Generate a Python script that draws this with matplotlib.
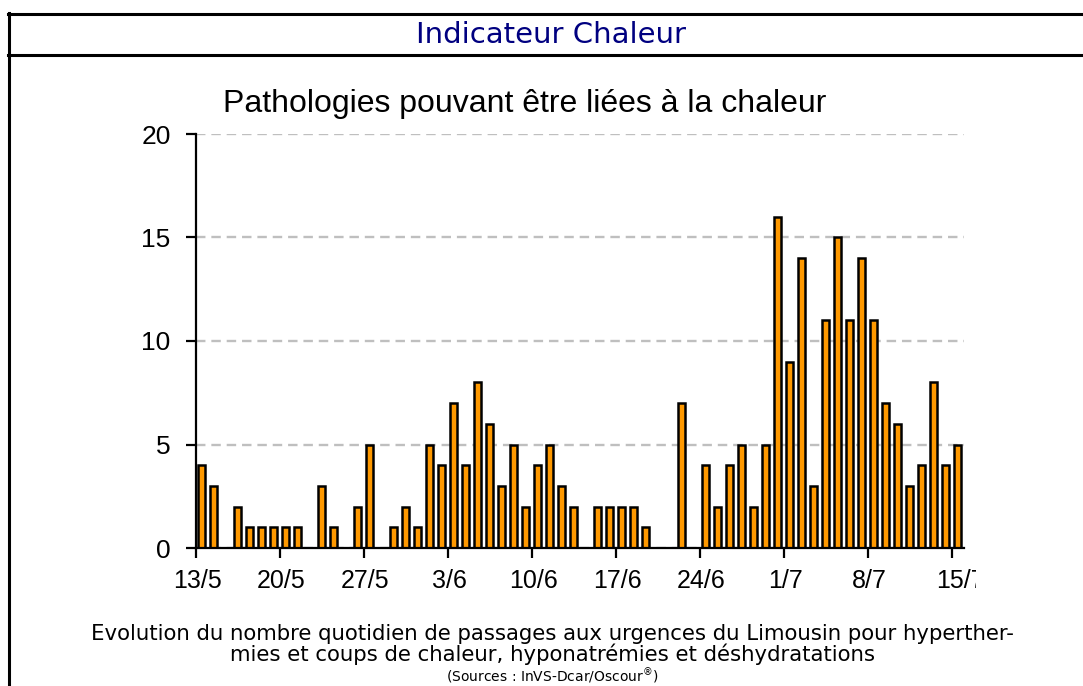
#!/usr/bin/env python3

"""\
Daily count of heat-related emergency visits (Limousin), bar chart.

Output:
    out.png
"""

import matplotlib
matplotlib.use('Agg')
import matplotlib.pyplot as plt
from matplotlib.lines import Line2D
from matplotlib.transforms import Bbox, TransformedBbox, offset_copy

# One value per day, 13/5 -> 15/7.
passages = [
        4, 3, 0, 2, 1, 1, 1, 1, 1, 0, 3, 1, 0, 2,       # 13/5 - 26/5
        5, 0, 1, 2, 1, 5, 4,                            # 27/5 - 2/6
        7, 4, 8, 6, 3, 5, 2,                            # 3/6 - 9/6
        4, 5, 3, 2, 0, 2, 2,                            # 10/6 - 16/6
        2, 2, 1, 0, 0, 7, 0,                            # 17/6 - 23/6
        4, 2, 4, 5, 2, 5, 16,                           # 24/6 - 30/6
        9, 14, 3, 11, 15, 11, 14,                       # 1/7 - 7/7
        11, 7, 6, 3, 4, 8, 4,                           # 8/7 - 14/7
        5,                                              # 15/7
]
tick_labels = ['13/5', '20/5', '27/5', '3/6', '10/6', '17/6', '24/6',
               '1/7', '8/7', '15/7']
y_ticks = [0, 5, 10, 15, 20]

header = "Indicateur Chaleur"
title = "Pathologies pouvant être liées à la chaleur"
caption_1 = ("Evolution du nombre quotidien de passages aux urgences "
             "du Limousin pour hyperther-")
caption_2 = "mies et coups de chaleur, hyponatrémies et déshydratations"
caption_3 = r"(Sources : InVS-Dcar/Oscour$^{\circledR}$)"

W, H = 1083, 686
num_font = 'Liberation Sans'
gothic_font = 'DejaVu Sans'


def fx(px):
    return px / W

def fy(py):
    return 1 - py / H


def draw_frame(fig):
    # Box around the panel: top rule, header rule, left side.
    lw = 2.2
    fig.add_artist(Line2D([fx(8), 1.0], [fy(13.5), fy(13.5)],
                          color='black', lw=lw))
    fig.add_artist(Line2D([fx(8), 1.0], [fy(55), fy(55)],
                          color='black', lw=lw))
    fig.add_artist(Line2D([fx(9), fx(9)], [fy(12.5), 0.0],
                          color='black', lw=lw))

    fig.text(fx(551), fy(35), header, ha='center', va='center',
             fontsize=21, color='#000080', family=gothic_font)


def plot_bars(fig):
    ax = fig.add_axes([fx(196), fy(548), fx(964) - fx(196),
                       fy(134) - fy(548)])

    x = [i + 0.45 for i in range(len(passages))]
    ax.bar(x, passages, width=0.62,
           color='#FF9900', edgecolor='black', linewidth=1.8, zorder=3)

    ax.set_xlim(0, len(passages))
    ax.set_ylim(0, 20)

    # Grid.
    ax.set_axisbelow(True)
    ax.yaxis.grid(True, color='#BFBFBF', linestyle=(0, (4, 2.5)),
                  linewidth=1.7)

    # Spines.
    for side in ['top', 'right']:
        ax.spines[side].set_visible(False)
    for side in ['left', 'bottom']:
        ax.spines[side].set_linewidth(1.6)
    ax.spines['bottom'].set_zorder(4)

    ax.set_yticks(y_ticks)
    ax.set_yticklabels([str(v) for v in y_ticks])
    ticks = [7 * i for i in range(len(tick_labels))]
    ax.set_xticks(ticks)
    ax.set_xticklabels([])
    ax.tick_params(axis='both', direction='out', length=7.2, width=1.6,
                   labelsize=19)
    ax.tick_params(axis='y', pad=11)
    for lbl in ax.get_yticklabels():
        lbl.set_family(num_font)

    # Date labels drawn by hand: the last one is cut by the chart area.
    clip = TransformedBbox(Bbox([[0, 0], [fx(976), 1]]), fig.transFigure)
    trans = offset_copy(ax.get_xaxis_transform(), fig=fig,
                        y=-14.8, units='points')
    for t, lab in zip(ticks, tick_labels):
        if lab == tick_labels[-1]:
            txt = ax.text(t - 1.35, 0, lab, transform=trans, ha='left',
                          va='top', fontsize=18, family=num_font)
        else:
            txt = ax.text(t + 0.1, 0, lab, transform=trans, ha='center',
                          va='top', fontsize=18, family=num_font)
        txt.set_clip_box(clip)
        txt.set_clip_on(True)

    fig.text(fx(525), fy(104), title, ha='center', va='center',
             fontsize=23, family=num_font)
    return ax


def draw_caption(fig):
    fig.text(fx(552), fy(634), caption_1, ha='center', va='center',
             fontsize=15.3, family=gothic_font)
    fig.text(fx(552), fy(654.5), caption_2, ha='center', va='center',
             fontsize=15.3, family=gothic_font)
    fig.text(fx(552), fy(676.5), caption_3, ha='center', va='center',
             fontsize=10, family=gothic_font)


if __name__ == '__main__':
    fig = plt.figure(figsize=(W / 100, H / 100), dpi=100)
    draw_frame(fig)
    plot_bars(fig)
    draw_caption(fig)
    fig.savefig('out.png', dpi=100)
